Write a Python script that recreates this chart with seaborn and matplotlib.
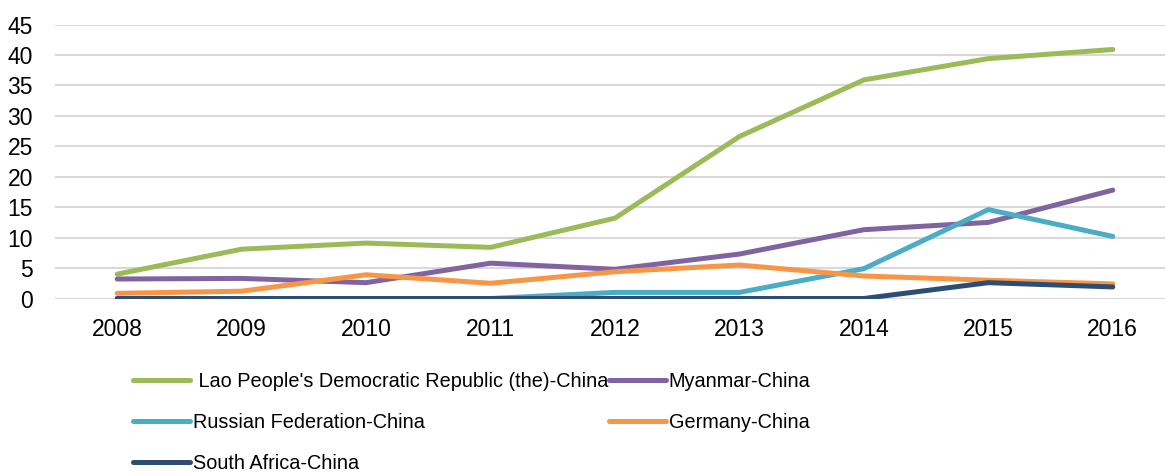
import matplotlib
matplotlib.use("Agg")
import matplotlib.pyplot as plt
import seaborn as sns
import pandas as pd

years = [2008, 2009, 2010, 2011, 2012, 2013, 2014, 2015, 2016]

lao = [4.0, 8.1, 9.1, 8.4, 13.2, 26.6, 35.9, 39.4, 40.9]
myanmar = [3.2, 3.3, 2.6, 5.8, 4.8, 7.3, 11.3, 12.5, 17.8]
russia = [0.0, 0.0, 0.0, 0.0, 1.0, 1.0, 4.9, 14.6, 10.2]
germany = [0.85, 1.2, 3.9, 2.5, 4.4, 5.5, 3.7, 3.0, 2.4]
south_africa = [0.0, 0.0, 0.0, 0.0, 0.0, 0.0, 0.0, 2.6, 1.9]

series_names = [
    " Lao People's Democratic Republic (the)-China",
    "Myanmar-China",
    "Russian Federation-China",
    "Germany-China",
    "South Africa-China",
]
series_values = [lao, myanmar, russia, germany, south_africa]
colors = ["#9BBB59", "#8064A2", "#4BACC6", "#F79646", "#2C4D75"]

yticks = [0, 5, 10, 15, 20, 25, 30, 35, 40, 45]

df = pd.DataFrame(
    [(name, yr, v) for name, vals in zip(series_names, series_values)
     for yr, v in zip(years, vals)],
    columns=["pair", "year", "value"],
)

sns.set_theme(style="white")
plt.rcParams["font.family"] = ["Liberation Sans", "DejaVu Sans"]
plt.rcParams["text.color"] = "black"

fig = plt.figure(figsize=(11.65, 4.74), dpi=100)
ax = fig.add_axes([55 / 1165, 175.5 / 474, 1120 / 1165, 274 / 474])

sns.lineplot(
    data=df, x="year", y="value", hue="pair", hue_order=series_names,
    palette=colors, linewidth=3.6, ax=ax, legend=False,
    solid_capstyle="round", solid_joinstyle="round",
)

ax.set_xlim(years[0] - 0.5, years[-1] + 0.5)
ax.set_ylim(0, 45)
ax.set_xticks(years)
ax.set_xticklabels([str(y) for y in years])
ax.set_yticks(yticks)
ax.set_yticklabels([str(t) for t in yticks])
ax.set_xlabel("")
ax.set_ylabel("")
ax.grid(axis="y", color="#D9D9D9", linewidth=1.5)
ax.set_axisbelow(True)
for s in ax.spines.values():
    s.set_visible(False)
ax.tick_params(axis="both", length=0, labelsize=16.5, colors="black")
ax.tick_params(axis="y", pad=16)
ax.tick_params(axis="x", pad=14)

# legend laid out row by row: two columns, filled column-wise by matplotlib
handles = [plt.Line2D([], [], color=c, linewidth=3.6, solid_capstyle="round")
           for c in colors]
order = [0, 2, 4, 1, 3]
fig.legend(
    [handles[i] for i in order], [series_names[i] for i in order],
    ncol=2, loc="upper left", bbox_to_anchor=(133 / 1165, 1 - 372 / 474),
    frameon=False, fontsize=14.3, handlelength=2.85, handletextpad=0.15,
    columnspacing=0.05, labelspacing=1.1, borderaxespad=0, borderpad=0,
)

fig.savefig("out.png", dpi=100)
